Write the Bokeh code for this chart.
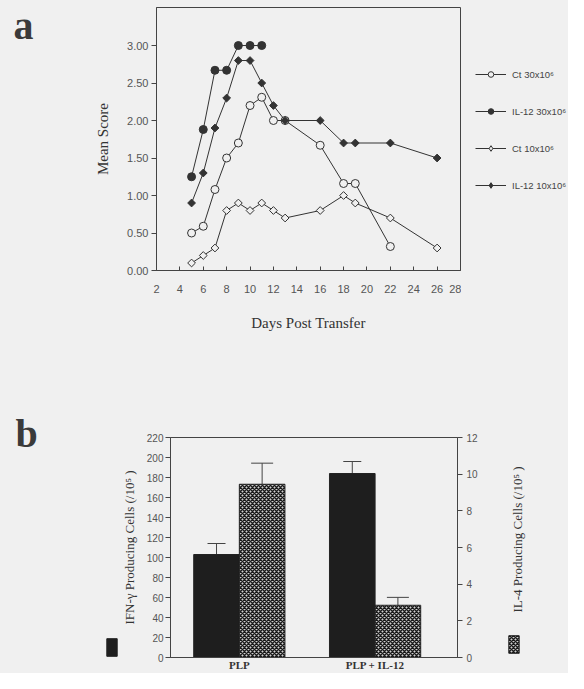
import math
from bokeh.plotting import figure
from bokeh.models import (Range1d, LinearAxis, FixedTicker, Legend, LegendItem,
                          Label, Whisker, TeeHead, ColumnDataSource)
from bokeh.layouts import column, row
from bokeh.transform import dodge
from bokeh.embed import file_html
from bokeh.resources import INLINE

# ---------------- Panel a data ----------------
days_ct30 = [5, 6, 7, 8, 9, 10, 11, 12, 13, 16, 18, 19, 22]
score_ct30 = [0.50, 0.59, 1.08, 1.50, 1.70, 2.20, 2.31, 2.00, 2.00, 1.67, 1.16, 1.16, 0.32]
days_il30 = [5, 6, 7, 8, 9, 10, 11]
score_il30 = [1.25, 1.88, 2.67, 2.67, 3.00, 3.00, 3.00]
days_ct10 = [5, 6, 7, 8, 9, 10, 11, 12, 13, 16, 18, 19, 22, 26]
score_ct10 = [0.10, 0.20, 0.30, 0.80, 0.90, 0.80, 0.90, 0.80, 0.70, 0.80, 1.00, 0.90, 0.70, 0.30]
days_il10 = [5, 6, 7, 8, 9, 10, 11, 12, 13, 16, 18, 19, 22, 26]
score_il10 = [0.90, 1.30, 1.90, 2.30, 2.80, 2.80, 2.50, 2.20, 2.00, 2.00, 1.70, 1.70, 1.70, 1.50]
x_ticks_a = [2, 4, 6, 8, 10, 12, 14, 16, 18, 20, 22, 24, 26, 28]
y_ticks_a = [0.0, 0.5, 1.0, 1.5, 2.0, 2.5, 3.0]

# ---------------- Panel b data ----------------
groups = ["PLP", "PLP + IL-12"]
group_pos = [1, 2]
ifn = [103, 184]
ifn_err = [114, 196]
il4 = [9.45, 2.85]
il4_err = [10.6, 3.28]
y_ticks_b = [0, 20, 40, 60, 80, 100, 120, 140, 160, 180, 200, 220]
y_ticks_b2 = [0, 2, 4, 6, 8, 10, 12]

BG = "#f0f0f0"
INK = "#333333"
TICKC = "#555555"
SANS = "Liberation Sans"
SERIF = "Liberation Serif"
HATCH = dict(fill_color="#cfcfcf", hatch_pattern="x", hatch_color="#1a1a1a",
             hatch_scale=4, hatch_weight=1.5, line_color="#222222")
SOLID = dict(fill_color="#1e1e1e", line_color="#222222")


def blank(w, h):
    # helper canvas; its ranges lie away from the data so nothing is drawn here
    f = figure(width=w, height=h, output_backend="svg", toolbar_location=None,
               x_axis_type=None, y_axis_type=None, x_range=Range1d(-40, -39),
               y_range=Range1d(-40, -39), min_border=0)
    f.background_fill_color = BG
    f.border_fill_color = BG
    f.outline_line_color = None
    f.grid.visible = False
    return f


def letter(f, txt, lx, ly):
    f.add_layout(Label(x=lx, y=ly, x_units="screen", y_units="screen", text=txt,
                       text_font=SERIF, text_font_style="bold", text_font_size="40px",
                       text_color="#3a3a3a", text_baseline="alphabetic"))


def style_axis(ax, label_size):
    ax.minor_tick_line_color = None
    ax.major_label_text_font = SANS
    ax.major_label_text_font_size = label_size
    ax.major_label_text_color = TICKC
    ax.axis_line_color = "#444444"
    ax.major_tick_line_color = "#444444"
    ax.axis_label_text_font = SERIF
    ax.axis_label_text_font_style = "normal"
    ax.axis_label_text_color = INK


# ================= Row 1: panel a =================
H1 = 345
fa = blank(40, H1)
letter(fa, "a", 13, 320)

p1 = figure(width=421, height=H1, output_backend="svg", toolbar_location=None,
            x_range=Range1d(2, 28), y_range=Range1d(0, 3.507),
            min_border_left=116, min_border_right=1, min_border_top=7,
            min_border_bottom=75)
p1.background_fill_color = BG
p1.border_fill_color = BG
p1.outline_line_color = "#444444"
p1.grid.visible = False

series = [
    ("Ct 30x10⁶", days_ct30, score_ct30, "circle", BG, 8, 0.0, "circle"),
    ("Ct 10x10⁶", days_ct10, score_ct10, "square", BG, 5.5, math.pi / 4, "diamond"),
    ("IL-12 30x10⁶", days_il30, score_il30, "circle", INK, 8, 0.0, "circle"),
    ("IL-12 10x10⁶", days_il10, score_il10, "square", INK, 5.5, math.pi / 4, "diamond"),
]
sources = {}
styles = {}
for name, xs, ys, mk, fc, sz, ang, legmk in series:
    src = ColumnDataSource(dict(day=xs, score=ys))
    p1.line("day", "score", source=src, line_color=INK, line_width=1)
    p1.scatter("day", "score", source=src, marker=mk, size=sz, angle=ang,
               fill_color=fc, line_color=INK, line_width=1)
    sources[name] = src
    styles[name] = (legmk, fc, sz)

xa = p1.xaxis[0]
style_axis(xa, "11px")
xa.ticker = FixedTicker(ticks=x_ticks_a)
xa.major_tick_in = 4
xa.major_tick_out = 0
xa.major_label_standoff = 14
xa.axis_label = "Days Post Transfer"
xa.axis_label_standoff = 19
xa.axis_label_text_font_size = "15px"

ya = p1.yaxis[0]
style_axis(ya, "11px")
ya.ticker = FixedTicker(ticks=y_ticks_a)
ya.major_label_overrides = {t: f"{t:.2f}" for t in y_ticks_a}
ya.major_tick_in = 0
ya.major_tick_out = 5
ya.major_label_standoff = 3
ya.axis_label = "Mean Score"
ya.axis_label_standoff = 13
ya.axis_label_text_font_size = "15px"

# legend region of panel a (own canvas, frame aligned with p1's frame)
fla = blank(107, H1)
order = ["Ct 30x10⁶", "IL-12 30x10⁶", "Ct 10x10⁶", "IL-12 10x10⁶"]
items = []
for name in order:
    mk, fc, sz = styles[name]
    l = fla.line("day", "score", source=sources[name], line_color=INK, line_width=1)
    s = fla.scatter("day", "score", source=sources[name], marker=mk, size=sz,
                    fill_color=fc, line_color=INK, line_width=1)
    items.append(LegendItem(label=name, renderers=[l, s]))
fla.add_layout(Legend(items=items, location=(14, 75), orientation="vertical",
                      glyph_width=31, glyph_height=14, label_height=20, spacing=17,
                      label_standoff=6, padding=0, margin=0,
                      border_line_color=None, background_fill_alpha=0,
                      label_text_font=SANS, label_text_font_size="9.5px",
                      label_text_color="#444444"))

# ================= Row 2: panel b =================
H2 = 673 - H1
src_b = ColumnDataSource(dict(x=group_pos, ifn=ifn, ifn_err=ifn_err,
                              il4=il4, il4_err=il4_err))
bw = 0.336

fb = blank(118, H2)
letter(fb, "b", 15, 240)
r_sw1 = fb.vbar(x="x", top="ifn", bottom=0, width=bw, source=src_b, **SOLID)
fb.add_layout(Legend(items=[LegendItem(label=" ", renderers=[r_sw1])],
                     location=(105, 15), glyph_width=13, glyph_height=22,
                     label_width=0, label_standoff=0, padding=0, margin=0,
                     border_line_color=None, background_fill_alpha=0,
                     label_text_font_size="1px"))

p2 = figure(width=362, height=H2, output_backend="svg", toolbar_location=None,
            x_range=Range1d(0.493, 2.607), y_range=Range1d(0, 220),
            min_border_left=45, min_border_right=21, min_border_top=92,
            min_border_bottom=13)
p2.background_fill_color = BG
p2.border_fill_color = BG
p2.outline_line_color = "#444444"
p2.grid.visible = False
p2.extra_y_ranges = {"il4": Range1d(0, 12)}

p2.vbar(x=dodge("x", -bw / 2, range=p2.x_range), top="ifn", bottom=0,
        width=bw, source=src_b, **SOLID)
p2.vbar(x=dodge("x", bw / 2, range=p2.x_range), top="il4", bottom=0,
        width=bw, source=src_b, y_range_name="il4", **HATCH)

p2.add_layout(Whisker(source=src_b, base=dodge("x", -bw / 2, range=p2.x_range),
                      lower="ifn", upper="ifn_err", dimension="height",
                      upper_head=TeeHead(size=18, line_color="#444444"),
                      lower_head=None, line_color="#444444"))
p2.add_layout(Whisker(source=src_b, base=dodge("x", bw / 2, range=p2.x_range),
                      lower="il4", upper="il4_err", dimension="height",
                      y_range_name="il4",
                      upper_head=TeeHead(size=22, line_color="#444444"),
                      lower_head=None, line_color="#444444"))

xb = p2.xaxis[0]
style_axis(xb, "11px")
xb.ticker = FixedTicker(ticks=group_pos)
xb.major_label_overrides = {g: n for g, n in zip(group_pos, groups)}
xb.major_tick_in = 0
xb.major_tick_out = 0
xb.major_label_standoff = 1
xb.major_label_text_font = SERIF
xb.major_label_text_font_style = "bold"
xb.major_label_text_color = INK

yb = p2.yaxis[0]
style_axis(yb, "10px")
yb.ticker = FixedTicker(ticks=y_ticks_b)
yb.major_tick_in = 0
yb.major_tick_out = 5
yb.major_label_standoff = 2
yb.axis_label = "IFN-γ Producing Cells (/10⁵ )"
yb.axis_label_standoff = 7
yb.axis_label_text_font_size = "13px"

yr = LinearAxis(y_range_name="il4", ticker=FixedTicker(ticks=y_ticks_b2))
style_axis(yr, "10px")
yr.major_tick_in = 0
yr.major_tick_out = 5
yr.major_label_standoff = 4
p2.add_layout(yr, "right")

fbr = blank(88, H2)
fbr.add_layout(Label(x=37, y=118, x_units="screen", y_units="screen",
                     text="IL-4 Producing Cells (/10⁵ )", angle=math.pi / 2,
                     text_align="center", text_baseline="middle",
                     text_font=SERIF, text_font_size="13px", text_color=INK))
r_sw2 = fbr.vbar(x="x", top="il4", bottom=0, width=bw, source=src_b, **HATCH)
fbr.add_layout(Legend(items=[LegendItem(label=" ", renderers=[r_sw2])],
                      location=(27, 2), glyph_width=13, glyph_height=22,
                      label_width=0, label_standoff=0, padding=0, margin=0,
                      border_line_color=None, background_fill_alpha=0,
                      label_text_font_size="1px"))

bgstyle = {"background-color": BG}
layout = column(row(column(fa), p1, fla, spacing=0, styles=bgstyle),
                row(column(fb), p2, fbr, spacing=0, styles=bgstyle),
                spacing=0, styles=bgstyle)
open("out.html", "w").write(file_html(layout, INLINE))
